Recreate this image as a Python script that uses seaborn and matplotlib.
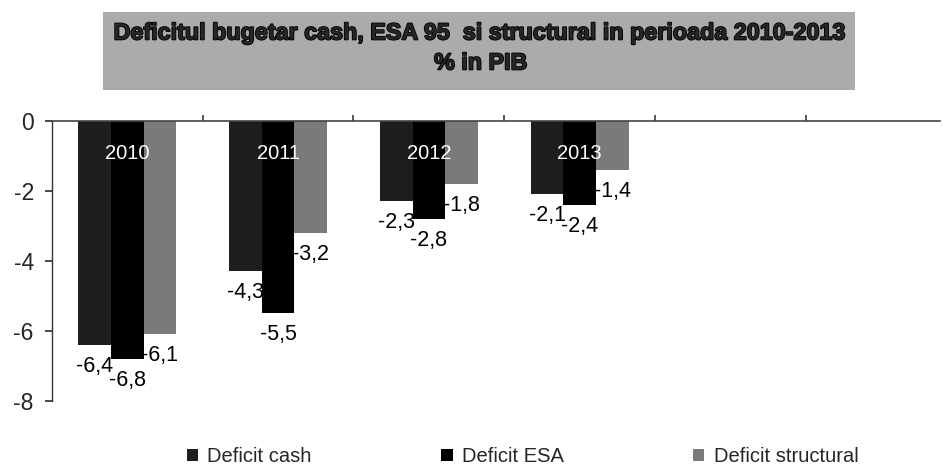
import matplotlib
matplotlib.use("Agg")
import matplotlib.pyplot as plt
import matplotlib.patheffects as pe
import seaborn as sns
import pandas as pd
from matplotlib.patches import Rectangle

years = ["2010", "2011", "2012", "2013"]
series = ["Deficit cash", "Deficit ESA", "Deficit structural"]
deficit_cash = [-6.4, -4.3, -2.3, -2.1]
deficit_esa = [-6.8, -5.5, -2.8, -2.4]
deficit_structural = [-6.1, -3.2, -1.8, -1.4]
y_ticks = [0, -2, -4, -6, -8]
title_lines = ["Deficitul bugetar cash, ESA 95  si structural in perioada 2010-2013", "% in PIB"]

df = pd.DataFrame({
    "an": years * 3,
    "serie": [series[0]] * 4 + [series[1]] * 4 + [series[2]] * 4,
    "valoare": deficit_cash + deficit_esa + deficit_structural,
})

sns.set_theme(style="white")
plt.rcParams["font.family"] = ["Liberation Sans", "DejaVu Sans"]
plt.rcParams["axes.unicode_minus"] = False

fig = plt.figure(figsize=(9.43, 4.65), dpi=100)
ax = fig.add_axes([0.055, 0.138, 0.942, 0.602])

palette = {series[0]: "#1e1e1e", series[1]: "#000000", series[2]: "#7a7a7a"}
sns.barplot(data=df, x="an", y="valoare", hue="serie", order=years,
            hue_order=series, palette=palette, width=0.65, ax=ax,
            legend=True, saturation=1, edgecolor="none")

ax.set_xlim(-0.5, 5.39)
ax.set_ylim(-8, 0)
ax.set_yticks(y_ticks)
ax.set_yticklabels([str(t) for t in y_ticks], fontsize=16.5)
ax.set_xlabel("")
ax.set_ylabel("")

for c in ax.containers:
    ax.bar_label(c, labels=[f"{v:.1f}".replace(".", ",") for v in c.datavalues],
                 padding=8, fontsize=15.5, color="black")

for i, yr in enumerate(years):
    ax.text(i, -0.92, yr, color="white", ha="center", va="center", fontsize=14.5)

# axes styling
for s in ["top", "right"]:
    ax.spines[s].set_visible(False)
ax.spines["left"].set_color("#333333")
ax.spines["left"].set_linewidth(1)
ax.spines["bottom"].set_position(("data", 0))
ax.spines["bottom"].set_color("#444444")
ax.spines["bottom"].set_linewidth(1.2)
ax.set_xticks([i + 0.5 for i in range(5)])
ax.set_xticklabels([])
ax.tick_params(axis="x", direction="in", length=4, color="#444444", bottom=True)
ax.tick_params(axis="y", direction="out", length=5, color="#333333", left=True, pad=8)

# legend at bottom
handles, labels = ax.get_legend_handles_labels()
ax.legend(handles, labels, loc="center", bbox_to_anchor=(0.53, -0.2), ncol=3,
          frameon=False, fontsize=14.5, handlelength=0.55, handleheight=0.55,
          handletextpad=0.45, columnspacing=6.45)

# title box
fig.patches.append(Rectangle((103 / 943, 1 - 90 / 465), 752 / 943, 78 / 465,
                             transform=fig.transFigure, facecolor="#ababab",
                             edgecolor="none", zorder=0))
tfam = ["Liberation Sans Narrow", "Liberation Sans", "DejaVu Sans"]
effects = [pe.withStroke(linewidth=1.2, foreground="black")]
fig.text(480 / 943, 1 - 33 / 465, title_lines[0], ha="center", va="center",
         fontsize=16.8, fontweight="bold", family=tfam, path_effects=effects)
fig.text(481 / 943, 1 - 63 / 465, title_lines[1], ha="center", va="center",
         fontsize=16.8, fontweight="bold", family=tfam, path_effects=effects)

fig.savefig("out.png", dpi=100)
